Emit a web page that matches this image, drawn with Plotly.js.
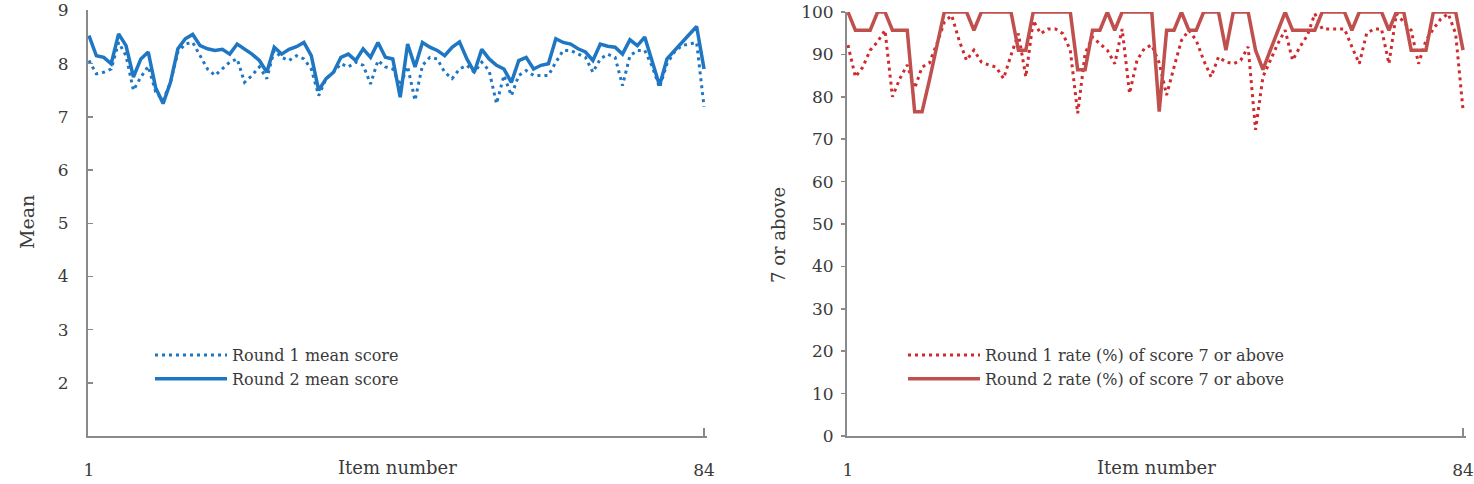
<!DOCTYPE html>
<html>
<head>
<meta charset="utf-8">
<script src="https://cdn.plot.ly/plotly-3.0.1.min.js"></script>
<style>html,body{margin:0;padding:0;background:#fff;}#chart{width:1474px;height:484px;}</style>
</head>
<body>
<div id="chart"></div>
<script>
// Item numbers 1..84
const items = [];
for (let i = 1; i <= 84; i++) items.push(i);

// Left panel: mean scores
const round1Mean = [8.06,7.81,7.84,7.90,8.40,8.15,7.50,7.75,7.95,7.47,
  7.31,7.65,8.22,8.37,8.40,8.15,7.90,7.78,7.90,8.03,
  8.09,7.65,7.78,7.94,7.72,8.25,8.12,8.06,8.15,8.09,
  7.90,7.40,7.72,7.84,8.00,7.94,8.03,7.97,7.62,8.06,
  7.94,7.90,7.59,7.95,7.31,7.97,8.12,8.09,7.84,7.72,
  7.90,7.97,7.84,8.03,7.87,7.25,7.78,7.40,7.78,7.87,
  7.78,7.78,7.78,8.03,8.25,8.25,8.18,8.12,7.84,8.09,
  8.18,8.12,7.59,8.15,8.25,8.25,7.95,7.55,8.00,8.22,
  8.34,8.37,8.40,7.19];
const round2Mean = [8.53,8.15,8.12,8.00,8.56,8.34,7.75,8.09,8.22,7.55,
  7.25,7.65,8.28,8.47,8.55,8.34,8.28,8.25,8.27,8.18,
  8.37,8.28,8.18,8.06,7.84,8.31,8.18,8.27,8.32,8.40,
  8.15,7.50,7.72,7.84,8.12,8.18,8.06,8.28,8.12,8.40,
  8.12,8.09,7.37,8.37,7.94,8.40,8.31,8.25,8.15,8.31,
  8.41,8.09,7.84,8.27,8.09,7.97,7.90,7.65,8.06,8.12,
  7.90,7.97,8.00,8.47,8.40,8.37,8.28,8.22,8.06,8.37,
  8.33,8.31,8.18,8.45,8.34,8.50,8.05,7.59,8.09,8.25,
  8.40,8.55,8.70,7.90];

// Right panel: rate (%) of score 7 or above
const round1Rate = [92.2,84.7,87.0,91.0,93.0,95.7,80.0,84.3,87.5,82.0,
  87.0,88.0,92.5,97.6,99.2,93.3,88.6,91.0,88.2,87.5,
  87.0,84.3,89.8,94.9,84.7,98.0,94.9,96.0,96.0,94.9,
  91.0,76.1,90.2,94.1,92.5,91.0,87.8,96.0,80.8,88.6,
  91.4,92.2,88.0,80.4,87.0,93.3,95.7,93.3,88.6,84.7,
  89.4,88.2,87.8,88.6,91.8,72.2,84.7,88.6,92.5,95.7,
  88.6,91.8,94.5,99.6,96.0,96.0,96.0,96.0,91.8,87.8,
  95.0,96.0,96.0,87.8,99.6,97.6,95.7,87.8,93.3,96.0,
  98.4,99.6,94.9,76.9];
const round2Rate = [100,95.7,95.7,95.7,100,100,95.7,95.7,95.7,76.5,
  76.5,84.0,92.0,100,100,100,100,95.7,100,100,
  100,100,100,91.0,91.0,100,100,100,100,100,
  100,86.4,86.4,95.7,95.7,100,95.7,100,100,100,
  100,100,76.5,95.7,95.7,100,95.7,95.7,100,100,
  100,91.0,100,100,100,91.0,86.4,91.0,95.7,100,
  95.7,95.7,95.7,95.7,100,100,100,100,95.7,100,
  100,100,100,95.7,100,100,91.0,91.0,91.0,100,
  100,100,100,91.0];

const leftTicks = [2,3,4,5,6,7,8,9];
const rightTicks = [0,10,20,30,40,50,60,70,80,90,100];
const xTicks = [1,84];

const FONT = "DejaVu Serif, Liberation Serif, serif";
const TXT = "#3a3a3a";
const AX = "#8a8a8a";
const BLUE = "#1f76c2";
const RED_DOT = "#cf2a2e";
const RED_SOLID = "#c0504d";

const traces = [
  {x: items, y: round1Mean, xaxis:'x', yaxis:'y', mode:'lines', name:'Round 1 mean score',
   line:{color:BLUE, width:3, dash:'3px,4px'}, legend:'legend'},
  {x: items, y: round2Mean, xaxis:'x', yaxis:'y', mode:'lines', name:'Round 2 mean score',
   line:{color:BLUE, width:3.5}, legend:'legend'},
  {x: items, y: round1Rate, xaxis:'x2', yaxis:'y2', mode:'lines', name:'Round 1 rate (%) of score 7 or above',
   line:{color:RED_DOT, width:3, dash:'3px,4px'}, legend:'legend2'},
  {x: items, y: round2Rate, xaxis:'x2', yaxis:'y2', mode:'lines', name:'Round 2 rate (%) of score 7 or above',
   line:{color:RED_SOLID, width:3.5}, legend:'legend2'}
];

const W = 1474, H = 484;
function xaxisDef(d0, d1, anchor){
  return {domain:[d0/W, d1/W], anchor:anchor, range:[0.87, 84.4], tickvals:xTicks, ticktext:xTicks.map(String),
    ticks:'inside', ticklen:8, tickwidth:1.5, tickcolor:AX, showline:true, linecolor:AX, linewidth:2,
    showgrid:false, zeroline:false, ticklabelstandoff:18, tickfont:{family:FONT, size:17, color:TXT}, fixedrange:true};
}
const layout = {
  width:W, height:H, margin:{l:0,r:0,t:0,b:0}, paper_bgcolor:'#fff', plot_bgcolor:'#fff',
  font:{family:FONT, color:TXT},
  xaxis: xaxisDef(88, 707, 'y'),
  xaxis2: xaxisDef(847, 1466, 'y2'),
  yaxis: {domain:[(H-436)/H, (H-10)/H], anchor:'x', range:[1,9.01], tickvals:leftTicks,
    ticks:'inside', ticklen:5, tickwidth:1.5, tickcolor:AX, showline:true, linecolor:AX, linewidth:2,
    showgrid:false, zeroline:false, ticklabelstandoff:14, tickfont:{family:FONT, size:17, color:TXT}},
  yaxis2: {domain:[(H-436)/H, (H-12)/H], anchor:'x2', range:[0,100], tickvals:rightTicks,
    ticks:'outside', ticklen:4, tickwidth:1.5, tickcolor:AX, showline:true, linecolor:AX, linewidth:2,
    showgrid:false, zeroline:false, ticklabelstandoff:4, tickfont:{family:FONT, size:17, color:TXT}},
  legend: {x:150/W, y:(H-338)/H, xanchor:'left', yanchor:'top', bgcolor:'rgba(0,0,0,0)',
    font:{family:FONT, size:16, color:TXT}, itemwidth:72, tracegroupgap:0},
  legend2: {x:903/W, y:(H-338)/H, xanchor:'left', yanchor:'top', bgcolor:'rgba(0,0,0,0)',
    font:{family:FONT, size:16, color:TXT}, itemwidth:72, tracegroupgap:0},
  showlegend:true,
  annotations: [
    {text:'Item number', xref:'x domain', x:0.5, yref:'paper', y:(H-467)/H, showarrow:false,
     xanchor:'center', yanchor:'middle', font:{family:FONT, size:18, color:TXT}},
    {text:'Item number', xref:'x2 domain', x:0.5, yref:'paper', y:(H-467)/H, showarrow:false,
     xanchor:'center', yanchor:'middle', font:{family:FONT, size:18, color:TXT}},
    {text:'Mean', xref:'paper', x:27/W, yref:'paper', y:(H-222)/H, showarrow:false, textangle:-90,
     xanchor:'center', yanchor:'middle', font:{family:FONT, size:19, color:TXT}},
    {text:'7 or above', xref:'paper', x:778/W, yref:'paper', y:(H-235)/H, showarrow:false, textangle:-90,
     xanchor:'center', yanchor:'middle', font:{family:FONT, size:18, color:TXT}}
  ]
};
Plotly.newPlot('chart', traces, layout, {displayModeBar:false, staticPlot:true});
</script>
</body>
</html>
